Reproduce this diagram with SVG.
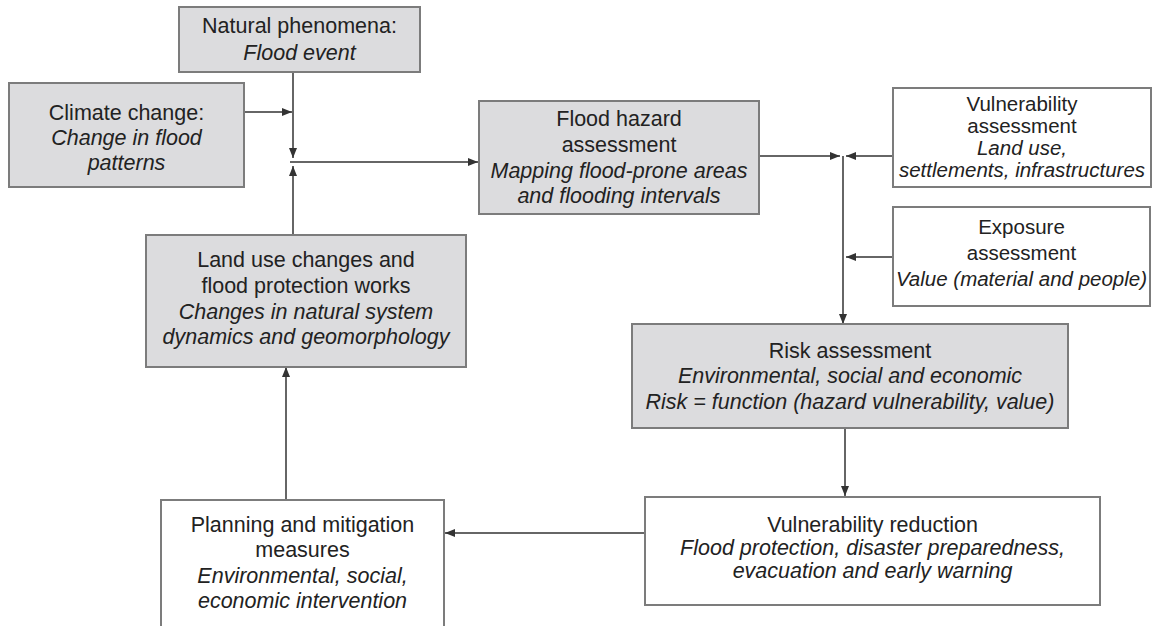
<svg xmlns="http://www.w3.org/2000/svg" width="1155" height="626" viewBox="0 0 1155 626">
<style>
.box{stroke:#7c7c7c;stroke-width:2}
.g{fill:#dcdcde}
.w{fill:#ffffff}
text{font-family:"Liberation Sans",Arial,sans-serif;font-size:21.5px;fill:#222;text-anchor:middle}
.s{font-size:20.5px}
.i{font-style:italic}
.c{stroke:#666;stroke-width:2;fill:none}
</style>
<defs>
<marker id="ah" viewBox="0 0 10 8" refX="10" refY="4" markerWidth="10" markerHeight="8" markerUnits="userSpaceOnUse" orient="auto">
<path d="M0,0 L10,4 L0,8 Z" fill="#333"/>
</marker>
</defs>
<rect width="1155" height="626" fill="#ffffff"/>
<g id="connectors">
<line class="c" x1="293" y1="72" x2="293" y2="158" marker-end="url(#ah)"/>
<line class="c" x1="244" y1="112" x2="292" y2="112" marker-end="url(#ah)"/>
<line class="c" x1="293" y1="235" x2="293" y2="166" marker-end="url(#ah)"/>
<line class="c" x1="290" y1="162" x2="478" y2="162" marker-end="url(#ah)"/>
<line class="c" x1="759" y1="156" x2="840" y2="156" marker-end="url(#ah)"/>
<line class="c" x1="893" y1="156" x2="846" y2="156" marker-end="url(#ah)"/>
<line class="c" x1="843" y1="156" x2="843" y2="324" marker-end="url(#ah)"/>
<line class="c" x1="893" y1="257" x2="846" y2="257" marker-end="url(#ah)"/>
<line class="c" x1="845" y1="428" x2="845" y2="496" marker-end="url(#ah)"/>
<line class="c" x1="645" y1="533" x2="445" y2="533" marker-end="url(#ah)"/>
<line class="c" x1="286" y1="500" x2="286" y2="367" marker-end="url(#ah)"/>
</g>
<g id="natural">
<rect class="box g" x="179" y="7" width="241" height="65"/>
<text x="299.5" y="33">Natural phenomena:</text>
<text class="i" x="299.5" y="60">Flood event</text>
</g>
<g id="climate">
<rect class="box g" x="9" y="83" width="235" height="104"/>
<text x="126.5" y="120">Climate change:</text>
<text class="i" x="126.5" y="145">Change in flood</text>
<text class="i" x="126.5" y="170">patterns</text>
</g>
<g id="flood-hazard">
<rect class="box g" x="479" y="101" width="280" height="113"/>
<text x="619" y="126">Flood hazard</text>
<text x="619" y="152">assessment</text>
<text class="i" x="619" y="178">Mapping flood-prone areas</text>
<text class="i" x="619" y="203">and flooding intervals</text>
</g>
<g id="vulnerability-assessment">
<rect class="box w" x="893" y="88" width="258" height="99"/>
<text class="s" x="1022" y="111">Vulnerability</text>
<text class="s" x="1022" y="133">assessment</text>
<text class="s i" x="1022" y="155">Land use,</text>
<text class="s i" x="1022" y="177">settlements, infrastructures</text>
</g>
<g id="exposure">
<rect class="box w" x="893" y="207" width="257" height="99"/>
<text class="s" x="1021.5" y="234">Exposure</text>
<text class="s" x="1021.5" y="260">assessment</text>
<text class="s i" x="1021.5" y="286">Value (material and people)</text>
</g>
<g id="land-use">
<rect class="box g" x="146" y="235" width="320" height="132"/>
<text x="306" y="267">Land use changes and</text>
<text x="306" y="293">flood protection works</text>
<text class="i" x="306" y="319">Changes in natural system</text>
<text class="i" x="306" y="344">dynamics and geomorphology</text>
</g>
<g id="risk">
<rect class="box g" x="632" y="324" width="436" height="104"/>
<text x="850" y="358">Risk assessment</text>
<text class="i" x="850" y="383">Environmental, social and economic</text>
<text class="i" x="850" y="409">Risk = function (hazard vulnerability, value)</text>
</g>
<g id="vulnerability-reduction">
<rect class="box w" x="645" y="497" width="455" height="108"/>
<text x="872.5" y="532">Vulnerability reduction</text>
<text class="i" x="872.5" y="555">Flood protection, disaster preparedness,</text>
<text class="i" x="872.5" y="578">evacuation and early warning</text>
</g>
<g id="planning">
<rect class="box w" x="161" y="500" width="283" height="130"/>
<text x="302.5" y="532">Planning and mitigation</text>
<text x="302.5" y="557">measures</text>
<text class="i" x="302.5" y="583">Environmental, social,</text>
<text class="i" x="302.5" y="608">economic intervention</text>
</g>
</svg>
